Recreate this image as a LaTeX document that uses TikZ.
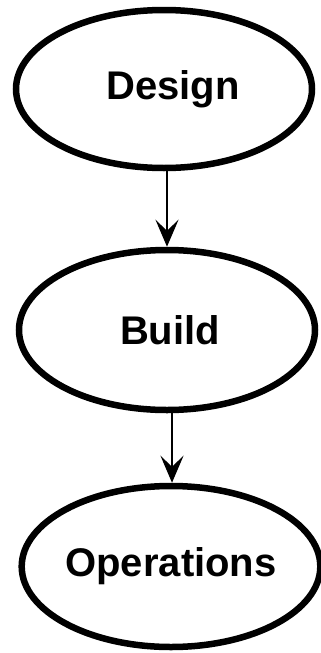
\documentclass[tikz,border=0pt]{standalone}
\usepackage{fontspec}
\setmainfont{Liberation Sans}
\usetikzlibrary{shapes.geometric,arrows.meta}
\begin{document}
\begin{tikzpicture}[x=1pt,y=-1pt,
  stage/.style={ellipse,draw=black,line width=6.5pt,inner sep=0pt,
    font=\bfseries\fontsize{40}{40}\selectfont},
  flow/.style={draw=black,line width=2pt,
    -{Stealth[length=27pt,width=23pt,inset=11pt]}}]
  \useasboundingbox (0,0) rectangle (321,653);
  \node[stage,minimum width=296pt,minimum height=158pt] (design) at (164,89) {\hspace*{18pt}Design};
  \node[stage,minimum width=296pt,minimum height=160pt] (build) at (167,330) {\hspace*{6pt}Build};
  \node[stage,minimum width=292pt,minimum height=161pt] (ops) at (171,566.5) {Operations};
  \draw[flow] ([xshift=3pt]design.south) -- (build.north);
  \draw[flow] ([xshift=5pt]build.south) -- ([xshift=1pt]ops.north);
\end{tikzpicture}
\end{document}
